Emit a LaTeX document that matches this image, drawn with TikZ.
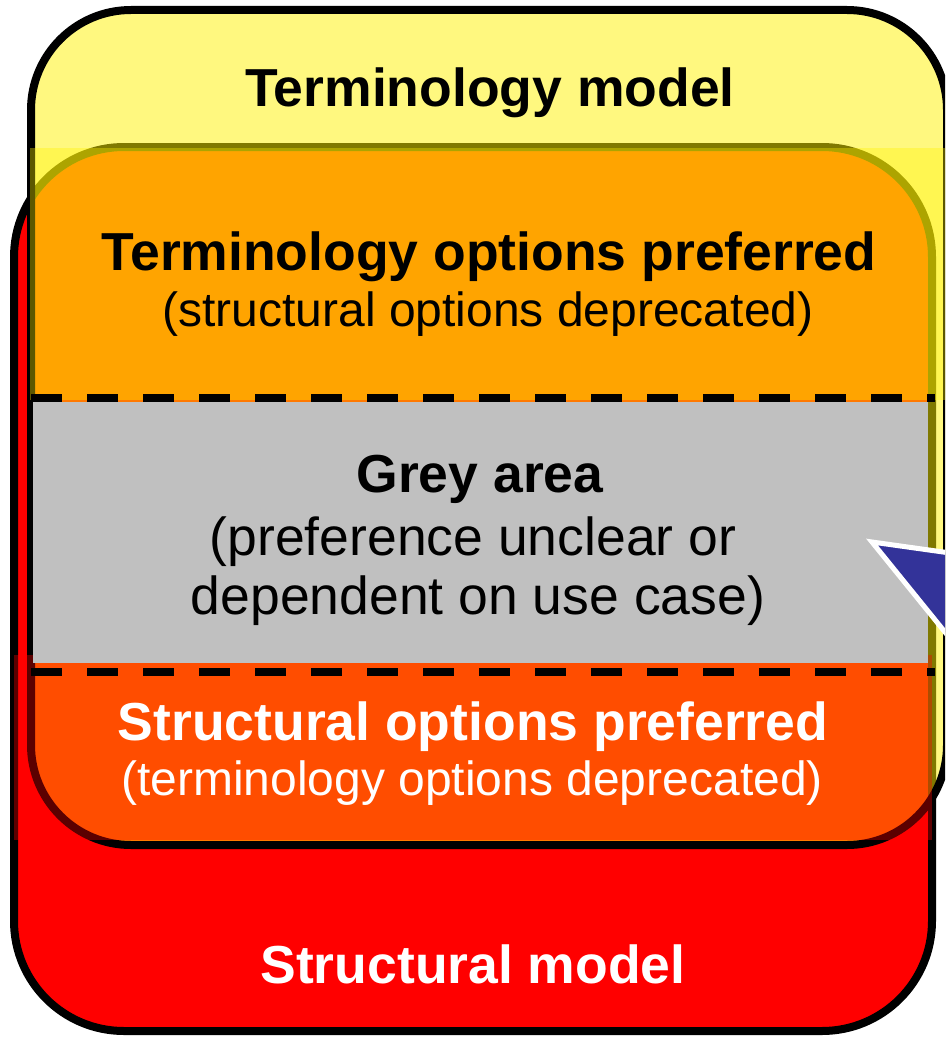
\documentclass[tikz,border=0pt]{standalone}
\usepackage{fontspec}
\setmainfont{Liberation Sans}
\definecolor{greyband}{RGB}{192,192,192}
\definecolor{calloutblue}{RGB}{51,51,153}
\begin{document}
\begin{tikzpicture}[x=1pt,y=-1pt,
  big/.style={font=\fontsize{53.5}{60}\selectfont\bfseries, anchor=base, inner sep=0pt},
  bigreg/.style={font=\fontsize{53.5}{60}\selectfont, anchor=base, inner sep=0pt},
  paren/.style={font=\fontsize{48}{56}\selectfont, anchor=base, inner sep=0pt},
  modelbox/.style={draw=black, line width=8pt},
  dashline/.style={draw=black, line width=8pt, dash pattern=on 31pt off 25pt}]
\useasboundingbox (0,0) rectangle (945,1038);
\clip (0,0) rectangle (945,1038);
% structural model (red)
\path[modelbox, fill=red, rounded corners=110pt] (14,147) rectangle (932,1031);
% terminology model (half-transparent yellow)
\path[modelbox, fill=yellow, fill opacity=0.5, rounded corners=100pt] (31,10) rectangle (947,845);
% band: terminology options preferred
\fill[yellow, fill opacity=0.36] (30,148) rectangle (960,400);
% band: structural options preferred
\fill[red, fill opacity=0.36] (14,655) rectangle (932,840);
% grey area
\fill[greyband] (33,402) rectangle (928,663);
% dashed separators
\path[dashline] (31,397.5) -- (935,397.5);
\path[dashline] (31,671.5) -- (935,671.5);
% callout pointer
\path[fill=calloutblue, draw=white, line width=5pt, line join=miter] (872,542) -- (1000,560) -- (1000,700) -- cycle;
% texts
\node[big] (tm) at (490,107) {Terminology model};
\node[big] (top) at (489,270) {Terminology options preferred};
\node[paren] (tod) at (488,326) {(structural options deprecated)};
\node[big] (ga) at (480,492) {Grey area};
\node[bigreg] (ga1) at (473,555) {(preference unclear or};
\node[bigreg] (ga2) at (478,614) {dependent on use case)};
\node[big, text=white] (sop) at (473,740) {Structural options preferred};
\node[paren, text=white] (sod) at (472,795) {(terminology options deprecated)};
\node[big, text=white] (sm) at (473,983) {Structural model};
\end{tikzpicture}
\end{document}
